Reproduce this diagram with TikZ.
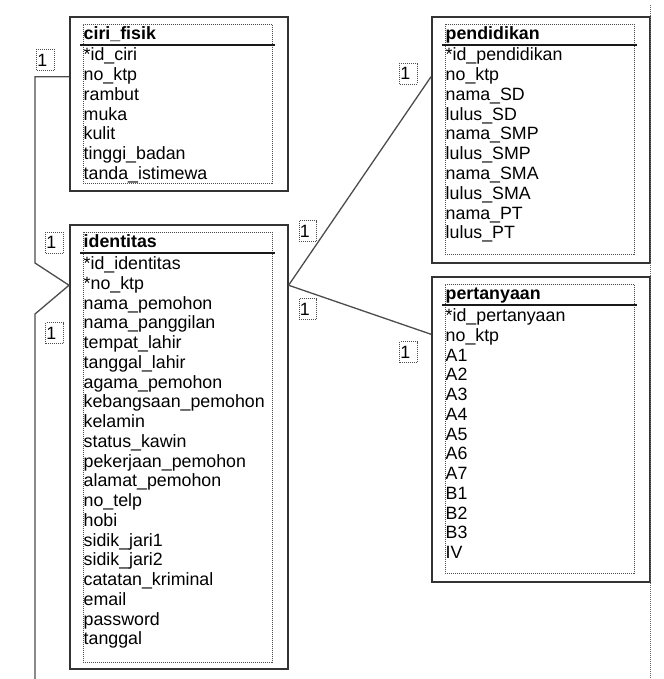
\documentclass[tikz,border=0pt]{standalone}
\usepackage{fontspec}
\setmainfont{Liberation Sans}
\newcommand{\tablefont}{\fontsize{17.8pt}{20pt}\selectfont}
\tikzstyle{table}=[draw=black!80, line width=1.6pt, anchor=north west, minimum width=218pt, inner sep=0pt]
\tikzstyle{inner table}=[draw=black!70, line width=0.8pt, dash pattern=on 1pt off 1pt, anchor=north west, minimum width=189pt, inner sep=0pt]
\tikzstyle{title}=[anchor=base west, inner sep=0pt, font=\tablefont\bfseries]
\tikzstyle{title rule}=[line width=1.3pt, black!90]
\tikzstyle{field}=[anchor=base west, inner sep=0pt, text height=12pt, text depth=4pt, font=\tablefont]
\tikzstyle{multiplicity}=[draw=black!70, line width=0.8pt, dash pattern=on 1pt off 1pt, minimum width=17.5pt, minimum height=21pt, text width=16.5pt, inner xsep=0pt, inner ysep=0pt, align=left, font=\tablefont]
\tikzstyle{relation}=[line width=1.3pt, black!70]
\tikzstyle{page edge}=[line width=1pt, black!60, dash pattern=on 1pt off 1pt]

\begin{document}
\begin{tikzpicture}[x=1pt, y=-1pt]
  \useasboundingbox (0,0) rectangle (663,679);
  % ciri_fisik
  \node[table, minimum height=174pt] (ciri) at (69,16) {};
  \node[inner table, minimum height=159pt] (ciri-in) at (83,24) {};
  \node[title] (ciri-title) at (83.5,39.5) {ciri\_fisik};
  \draw[title rule] (80,45) -- (275,45);
  \foreach \f [count=\i from 0] in {*id\_ciri, no\_ktp, rambut, muka, kulit, tinggi\_badan, tanda\_istimewa}
    \node[field] (ciri-\i) at (83.5,61+\i*19.75) {\f};
  % identitas
  \node[table, minimum height=444pt] (ident) at (69,224) {};
  \node[inner table, minimum height=430pt] (ident-in) at (83,232) {};
  \node[title] (ident-title) at (83.5,247.5) {identitas};
  \draw[title rule] (80,253) -- (275,253);
  \foreach \f [count=\i from 0] in {*id\_identitas, *no\_ktp, nama\_pemohon, nama\_panggilan, tempat\_lahir, tanggal\_lahir, agama\_pemohon, kebangsaan\_pemohon, kelamin, status\_kawin, pekerjaan\_pemohon, alamat\_pemohon, no\_telp, hobi, sidik\_jari1, sidik\_jari2, catatan\_kriminal, email, password, tanggal}
    \node[field] (ident-\i) at (83.5,269.5+\i*19.75) {\f};
  % pendidikan
  \node[table, minimum height=246pt] (pend) at (431,16) {};
  \node[inner table, minimum height=230pt] (pend-in) at (445,24) {};
  \node[title] (pend-title) at (445.5,39.5) {pendidikan};
  \draw[title rule] (442,45) -- (637,45);
  \foreach \f [count=\i from 0] in {*id\_pendidikan, no\_ktp, nama\_SD, lulus\_SD, nama\_SMP, lulus\_SMP, nama\_SMA, lulus\_SMA, nama\_PT, lulus\_PT}
    \node[field] (pend-\i) at (445.5,61+\i*19.75) {\f};
  % pertanyaan
  \node[table, minimum height=305pt] (tanya) at (431,276) {};
  \node[inner table, minimum height=289pt] (tanya-in) at (445,284) {};
  \node[title] (tanya-title) at (445.5,299.5) {pertanyaan};
  \draw[title rule] (442,305) -- (637,305);
  \foreach \f [count=\i from 0] in {*id\_pertanyaan, no\_ktp, A1, A2, A3, A4, A5, A6, A7, B1, B2, B3, IV}
    \node[field] (tanya-\i) at (445.5,321.5+\i*19.75) {\f};

  % relations
  \coordinate (loop top) at (35,263);
  \coordinate (loop bottom) at (35,314);
  \coordinate (offpage) at (35,679);
  \draw[relation] (ciri.west |- ciri-1) -| (loop top) -- (ident.west |- ident-1) -- (loop bottom) -- (offpage);
  \draw[relation] (ident.east |- ident-1) -- (pend.west |- pend-1);
  \draw[relation] (ident.east |- ident-1) -- ([yshift=3pt]tanya.west |- tanya-1);

  \node[multiplicity] (m-ciri) at (45.5,60) {1};
  \node[multiplicity] (m-ident-top) at (54.5,242.5) {1};
  \node[multiplicity] (m-ident-bottom) at (54.5,333) {1};
  \node[multiplicity] (m-pend) at (408.5,73.5) {1};
  \node[multiplicity] (m-ident-pend) at (308,231) {1};
  \node[multiplicity] (m-ident-tanya) at (308,309) {1};
  \node[multiplicity] (m-tanya) at (408.5,352) {1};

  \draw[page edge] (650.5,5) -- (650.5,679);
\end{tikzpicture}
\end{document}
